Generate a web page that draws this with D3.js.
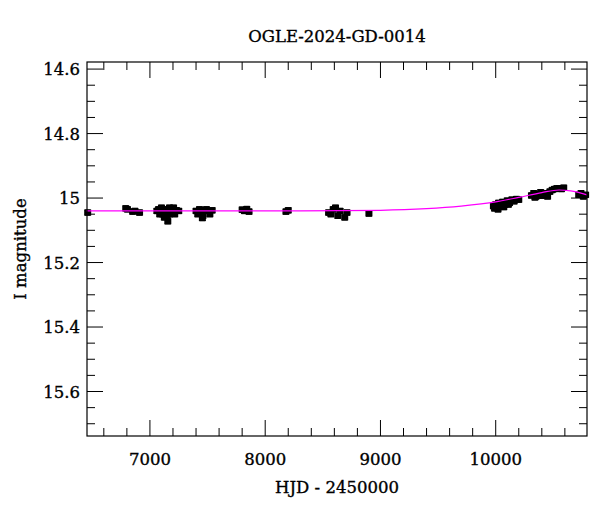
<!DOCTYPE html>
<html><head><meta charset="utf-8">
<script src="https://cdn.jsdelivr.net/npm/d3@7"></script>
<style>body{margin:0;background:#fff}text{font-family:"DejaVu Serif",serif;font-size:16.5px;stroke:#000;stroke-width:0.35px}</style>
</head><body><svg id="c" width="600" height="512"></svg>
<script>
var hjd = [6460, 6790, 6805, 6850, 6870, 6910,
  7060, 7075, 7090, 7100, 7110, 7120, 7130, 7140, 7150, 7160, 7170, 7180, 7190, 7200, 7215, 7230, 7250, 7155, 7125, 7170, 7085, 7205,
  7400, 7415, 7430, 7445, 7460, 7475, 7490, 7520, 7540, 7455, 7435,
  7800, 7820, 7840, 7860, 8180, 8200,
  8550, 8570, 8590, 8610, 8630, 8650, 8690, 8710, 8900,
  9980, 10000, 10010, 10025, 10040, 10060, 10080, 10100, 10120, 10140, 10160, 10180, 10200, 10020, 10070, 10110, 9990, 10050,
  10310, 10330, 10350, 10370, 10390, 10410, 10430, 10450, 10470, 10340, 10400,
  10490, 10510, 10530, 10550, 10570, 10590,
  10720, 10740, 10760, 10780];
var mag = [15.045, 15.032, 15.035, 15.042, 15.04, 15.045,
  15.04, 15.035, 15.045, 15.03, 15.05, 15.038, 15.045, 15.035, 15.055, 15.04, 15.05, 15.037, 15.045, 15.04, 15.05, 15.038, 15.04, 15.072, 15.06, 15.03, 15.05, 15.03,
  15.04, 15.05, 15.035, 15.045, 15.055, 15.04, 15.035, 15.05, 15.038, 15.062, 15.045,
  15.036, 15.04, 15.034, 15.042, 15.042, 15.038,
  15.045, 15.05, 15.035, 15.03, 15.055, 15.04, 15.06, 15.045, 15.048,
  15.025, 15.02, 15.03, 15.015, 15.025, 15.012, 15.02, 15.008, 15.015, 15.005, 15.01, 15.003, 15.005, 15.035, 15.028, 15.02, 15.032, 15.018,
  14.992, 14.985, 14.995, 14.988, 14.982, 14.99, 14.985, 14.995, 14.98, 14.998, 14.993,
  14.975, 14.972, 14.97, 14.97, 14.972, 14.968,
  14.99, 14.985, 14.995, 14.99];
var err = 0.008;
var model_hjd = [6450, 8300, 9000, 9400, 9700, 10000, 10200, 10400, 10550, 10650, 10792];
var model_mag = [15.04, 15.04, 15.038, 15.033, 15.025, 15.012, 14.998, 14.983, 14.975, 14.978, 14.99];
var xticks = [7000, 8000, 9000, 10000];
var yticks = [14.6, 14.8, 15, 15.2, 15.4, 15.6];

var svg = d3.select("#c");
var L = 87, R = 587, T = 62, B = 436;
var x = d3.scaleLinear().domain([6454, 10792]).range([L, R]);
var y = d3.scaleLinear().domain([14.578, 15.738]).range([T, B]);

var g = svg.append("g");
g.selectAll("line.e").data(hjd).enter().append("line")
  .attr("x1", function (d) { return x(d); }).attr("x2", function (d) { return x(d); })
  .attr("y1", function (d, i) { return y(mag[i] - err); }).attr("y2", function (d, i) { return y(mag[i] + err); })
  .attr("stroke", "#000").attr("stroke-width", 1.3);
g.selectAll("rect").data(hjd).enter().append("rect")
  .attr("x", function (d) { return x(d) - 3.5; }).attr("y", function (d, i) { return y(mag[i]) - 3; })
  .attr("width", 7).attr("height", 6).attr("fill", "#000");
[-1, 1].forEach(function (s) {
  g.selectAll("line.c" + s).data(hjd).enter().append("line")
    .attr("x1", function (d) { return x(d) - 3; }).attr("x2", function (d) { return x(d) + 3; })
    .attr("y1", function (d, i) { return y(mag[i] + s * err); }).attr("y2", function (d, i) { return y(mag[i] + s * err); })
    .attr("stroke", "#000").attr("stroke-width", 1.3);
});

svg.append("path").datum(model_hjd)
  .attr("d", d3.line().x(function (d) { return x(d); }).y(function (d, i) { return y(model_mag[i]); }).curve(d3.curveMonotoneX))
  .attr("fill", "none").attr("stroke", "#ff00ff").attr("stroke-width", 1.2);

// frame and ticks
svg.append("rect").attr("x", L).attr("y", T).attr("width", R - L).attr("height", B - T)
  .attr("fill", "none").attr("stroke", "#000").attr("stroke-width", 1.2);
var ax = svg.append("g").attr("stroke", "#000");
d3.range(6600, 10800, 200).forEach(function (v) {
  var big = v % 1000 === 0, len = big ? 16 : 8;
  ax.append("line").attr("x1", x(v)).attr("x2", x(v)).attr("y1", B).attr("y2", B - len);
  ax.append("line").attr("x1", x(v)).attr("x2", x(v)).attr("y1", T).attr("y2", T + len);
});
d3.range(14.6, 15.74, 0.05).forEach(function (v) {
  var big = Math.abs(Math.round(v * 5) - v * 5) < 1e-6, len = big ? 16 : 8;
  ax.append("line").attr("y1", y(v)).attr("y2", y(v)).attr("x1", L).attr("x2", L + len);
  ax.append("line").attr("y1", y(v)).attr("y2", y(v)).attr("x1", R).attr("x2", R - len);
});
svg.selectAll("text.x").data(xticks).enter().append("text")
  .attr("x", function (d) { return x(d); }).attr("y", 465).attr("text-anchor", "middle")
  .text(function (d) { return d; });
svg.selectAll("text.y").data(yticks).enter().append("text")
  .attr("x", 80).attr("y", function (d) { return y(d) + 6; }).attr("text-anchor", "end")
  .text(function (d) { return d; });
svg.append("text").attr("x", 337).attr("y", 493).attr("text-anchor", "middle").text("HJD - 2450000");
svg.append("text").attr("transform", "translate(26,249) rotate(-90)").attr("text-anchor", "middle").text("I magnitude");
svg.append("text").attr("x", 337).attr("y", 42).attr("text-anchor", "middle").text("OGLE-2024-GD-0014");
</script></body></html>
